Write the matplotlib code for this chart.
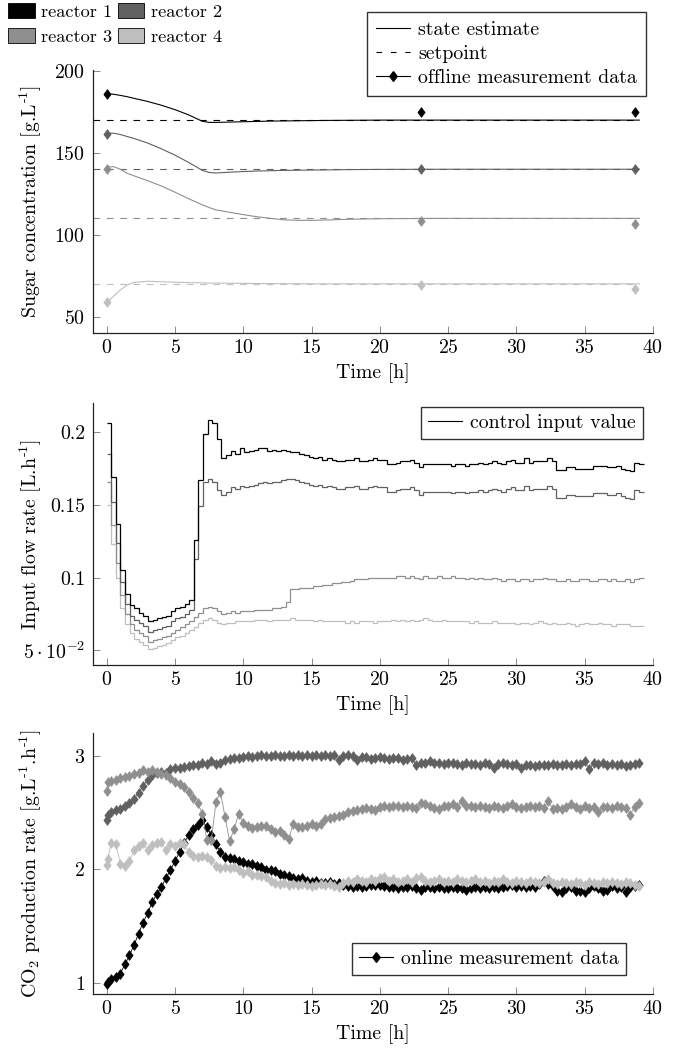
import numpy as np
import matplotlib
matplotlib.use("Agg")
import matplotlib.pyplot as plt
from matplotlib.lines import Line2D
import matplotlib.patches as mpatches

plt.rcParams['font.family'] = 'cmr10'
plt.rcParams['mathtext.fontset'] = 'cm'
plt.rcParams['axes.formatter.use_mathtext'] = True
plt.rcParams['axes.unicode_minus'] = False

# ---------------- data ----------------
reactor_names = ["reactor 1", "reactor 2", "reactor 3", "reactor 4"]
reactor_colors = ["#000000", "#606060", "#8f8f8f", "#bfbfbf"]

# Panel 1: sugar concentration state estimates
t_est = [0, 0.5, 1, 1.5, 2, 3, 4, 5, 6, 7, 7.5, 8, 9, 10, 11, 12, 13, 14, 15, 16, 18, 20, 25, 30, 35, 39]
est_r1 = [186, 185.8, 185.1, 184.3, 183.3, 181.4, 179.1, 176.4, 173.2, 169.3, 168.6, 168.6, 168.8, 169.0, 169.2,
          169.4, 169.5, 169.6, 169.7, 169.8, 169.9, 170, 170, 170, 170, 170]
est_r2 = [162, 162, 161.2, 160.0, 158.8, 156.0, 152.5, 148.6, 144.2, 139.3, 138.0, 137.7, 138.2, 138.6, 138.9,
          139.1, 139.3, 139.4, 139.5, 139.6, 139.8, 139.9, 140, 140, 140, 140]
est_r3 = [141.3, 141.6, 140.0, 137.5, 136.0, 133.0, 129.8, 126.0, 122.0, 118.3, 116.6, 115.2, 113.7, 112.3, 111.0,
          110.0, 109.1, 108.8, 108.8, 109.0, 109.5, 109.8, 110, 110, 110, 110]
est_r4 = [58.7, 62.4, 66.3, 69.3, 70.9, 71.6, 71.3, 71.0, 70.8, 70.6, 70.5, 70.5, 70.4, 70.3, 70.2,
          70.2, 70.1, 70.1, 70, 70, 70, 70, 70, 70, 70, 70]
setpoints = [170, 140, 110, 70]
t_setpoint = [-1, 39]
t_offline = [0, 23, 38.7]
off_r1 = [185.8, 174.8, 174.8]
off_r2 = [161.6, 140.2, 140.2]
off_r3 = [140.2, 108.1, 106.5]
off_r4 = [58.7, 69.1, 67.1]

# Panel 2: control input (one value per ~20 min step)
step_h = 0.336
u_r1 = [0.206, 0.169, 0.137, 0.105, 0.089, 0.081, 0.079, 0.076, 0.074, 0.070,
        0.071, 0.072, 0.073, 0.074, 0.077, 0.079, 0.080, 0.082, 0.085, 0.126,
        0.167, 0.199, 0.208, 0.206, 0.195, 0.182, 0.184, 0.187, 0.185, 0.189,
        0.186, 0.187, 0.188, 0.189, 0.189, 0.187, 0.188, 0.187, 0.188, 0.187,
        0.186, 0.186, 0.185, 0.184, 0.183, 0.182, 0.183, 0.181, 0.182, 0.181,
        0.180, 0.180, 0.181, 0.181, 0.182, 0.180, 0.180, 0.181, 0.182, 0.181,
        0.181, 0.178, 0.178, 0.179, 0.180, 0.180, 0.181, 0.179, 0.176, 0.178,
        0.178, 0.178, 0.178, 0.178, 0.178, 0.177, 0.178, 0.178, 0.177, 0.178,
        0.178, 0.179, 0.178, 0.179, 0.180, 0.179, 0.178, 0.180, 0.181, 0.179,
        0.179, 0.182, 0.179, 0.180, 0.180, 0.180, 0.182, 0.180, 0.174, 0.174,
        0.176, 0.176, 0.175, 0.175, 0.175, 0.175, 0.177, 0.177, 0.177, 0.176,
        0.176, 0.177, 0.175, 0.174, 0.173, 0.179, 0.178]
u_r2 = [0.185, 0.152, 0.124, 0.097, 0.082, 0.074, 0.071, 0.069, 0.067, 0.063,
        0.064, 0.065, 0.066, 0.067, 0.070, 0.072, 0.073, 0.075, 0.078, 0.113,
        0.149, 0.166, 0.168, 0.166, 0.160, 0.157, 0.159, 0.162, 0.161, 0.163,
        0.162, 0.163, 0.164, 0.165, 0.166, 0.165, 0.166, 0.166, 0.167, 0.168,
        0.168, 0.167, 0.166, 0.165, 0.164, 0.163, 0.164, 0.162, 0.163, 0.162,
        0.161, 0.161, 0.162, 0.162, 0.163, 0.161, 0.161, 0.162, 0.163, 0.162,
        0.162, 0.159, 0.159, 0.160, 0.161, 0.161, 0.162, 0.160, 0.157, 0.159,
        0.159, 0.159, 0.159, 0.159, 0.159, 0.158, 0.159, 0.159, 0.158, 0.159,
        0.159, 0.160, 0.159, 0.160, 0.161, 0.160, 0.159, 0.161, 0.162, 0.160,
        0.160, 0.163, 0.160, 0.161, 0.161, 0.161, 0.163, 0.161, 0.155, 0.155,
        0.157, 0.157, 0.156, 0.156, 0.156, 0.156, 0.158, 0.158, 0.158, 0.157,
        0.157, 0.158, 0.156, 0.155, 0.154, 0.160, 0.159]
u_r3 = [0.166, 0.136, 0.110, 0.088, 0.075, 0.068, 0.064, 0.062, 0.060, 0.056,
        0.057, 0.058, 0.059, 0.060, 0.062, 0.064, 0.066, 0.068, 0.070, 0.073,
        0.076, 0.079, 0.080, 0.079, 0.077, 0.075, 0.076, 0.077, 0.076, 0.077,
        0.077, 0.077, 0.078, 0.078, 0.078, 0.078, 0.079, 0.079, 0.080, 0.083,
        0.092, 0.092, 0.093, 0.093, 0.093, 0.094, 0.094, 0.095, 0.095, 0.096,
        0.096, 0.097, 0.097, 0.098, 0.099, 0.099, 0.099, 0.100, 0.100, 0.100,
        0.100, 0.100, 0.100, 0.101, 0.101, 0.100, 0.101, 0.100, 0.099, 0.101,
        0.100, 0.100, 0.101, 0.100, 0.100, 0.101, 0.100, 0.100, 0.099, 0.100,
        0.099, 0.100, 0.099, 0.099, 0.100, 0.099, 0.098, 0.099, 0.099, 0.098,
        0.099, 0.099, 0.098, 0.099, 0.099, 0.100, 0.099, 0.099, 0.098, 0.098,
        0.099, 0.098, 0.098, 0.099, 0.099, 0.098, 0.098, 0.099, 0.099, 0.098,
        0.099, 0.098, 0.098, 0.099, 0.097, 0.099, 0.100]
u_r4 = [0.150, 0.123, 0.100, 0.079, 0.068, 0.062, 0.058, 0.056, 0.054, 0.051,
        0.052, 0.053, 0.054, 0.055, 0.057, 0.059, 0.060, 0.062, 0.064, 0.066,
        0.069, 0.071, 0.072, 0.071, 0.069, 0.068, 0.069, 0.069, 0.070, 0.070,
        0.070, 0.070, 0.071, 0.071, 0.071, 0.070, 0.071, 0.071, 0.071, 0.071,
        0.072, 0.071, 0.071, 0.071, 0.071, 0.070, 0.071, 0.070, 0.070, 0.070,
        0.070, 0.070, 0.069, 0.070, 0.069, 0.070, 0.070, 0.070, 0.069, 0.070,
        0.070, 0.070, 0.071, 0.070, 0.071, 0.070, 0.071, 0.070, 0.071, 0.072,
        0.071, 0.070, 0.070, 0.071, 0.070, 0.070, 0.070, 0.070, 0.070, 0.069,
        0.070, 0.069, 0.069, 0.069, 0.070, 0.069, 0.069, 0.069, 0.069, 0.068,
        0.069, 0.069, 0.068, 0.069, 0.070, 0.069, 0.068, 0.069, 0.068, 0.068,
        0.069, 0.068, 0.067, 0.068, 0.069, 0.068, 0.068, 0.069, 0.068, 0.068,
        0.067, 0.068, 0.068, 0.068, 0.067, 0.067, 0.067]

# Panel 3: online CO2 measurements (first two samples at t=0 and t=0.08, then every 20 min)
t_online = np.r_[0.0, 0.08, np.arange(1, 118) / 3]
co2_r1 = [0.99, 1.01,
          1.03, 1.05, 1.08, 1.16, 1.24, 1.33, 1.43, 1.53, 1.61, 1.71, 1.78, 1.84, 1.92, 1.99, 2.07, 2.15, 2.23, 2.30,
          2.35, 2.39, 2.43, 2.37, 2.30, 2.22, 2.15, 2.11, 2.10, 2.09, 2.07, 2.06, 2.05, 2.05, 2.03, 2.02, 1.99, 1.99,
          1.98, 1.96, 1.95, 1.94, 1.92, 1.91, 1.92, 1.90, 1.89, 1.90, 1.88, 1.88, 1.89, 1.87, 1.88, 1.86, 1.85, 1.84,
          1.85, 1.84, 1.85, 1.86, 1.86, 1.86, 1.85, 1.84, 1.84, 1.83, 1.84, 1.84, 1.85, 1.83, 1.82, 1.84, 1.84, 1.83,
          1.84, 1.83, 1.83, 1.84, 1.83, 1.83, 1.82, 1.83, 1.84, 1.83, 1.84, 1.83, 1.84, 1.83, 1.84, 1.85, 1.86, 1.84,
          1.85, 1.84, 1.85, 1.84, 1.87, 1.90, 1.87, 1.85, 1.81, 1.80, 1.83, 1.84, 1.81, 1.81, 1.80, 1.83, 1.85, 1.83,
          1.81, 1.82, 1.85, 1.83, 1.84, 1.80, 1.84, 1.85, 1.86]
co2_r2 = [2.43, 2.48,
          2.50, 2.52, 2.53, 2.56, 2.58, 2.62, 2.67, 2.73, 2.79, 2.83, 2.85, 2.86, 2.85, 2.88, 2.89, 2.89, 2.90, 2.91,
          2.92, 2.92, 2.94, 2.93, 2.95, 2.93, 2.94, 2.96, 2.97, 2.98, 2.98, 2.99, 3.00, 2.99, 3.00, 3.01, 3.00, 3.00,
          3.01, 3.00, 3.00, 3.01, 3.00, 3.01, 3.00, 3.01, 3.00, 3.01, 3.00, 3.01, 3.00, 3.01, 2.96, 3.00, 3.01, 3.00,
          2.96, 2.99, 2.99, 2.97, 2.98, 2.99, 2.98, 2.97, 2.98, 2.98, 2.96, 2.97, 2.98, 2.92, 2.94, 2.94, 2.95, 2.94,
          2.94, 2.93, 2.94, 2.94, 2.93, 2.92, 2.94, 2.93, 2.93, 2.92, 2.94, 2.93, 2.89, 2.93, 2.94, 2.93, 2.92, 2.93,
          2.89, 2.92, 2.92, 2.91, 2.92, 2.92, 2.92, 2.93, 2.92, 2.92, 2.93, 2.92, 2.93, 2.93, 2.95, 2.88, 2.94, 2.93,
          2.94, 2.92, 2.93, 2.92, 2.93, 2.91, 2.92, 2.93, 2.94]
co2_r3 = [2.69, 2.77,
          2.78, 2.79, 2.80, 2.81, 2.82, 2.84, 2.85, 2.87, 2.86, 2.87, 2.86, 2.84, 2.83, 2.80, 2.77, 2.75, 2.72, 2.68,
          2.63, 2.58, 2.49, 2.26, 2.26, 2.59, 2.68, 2.46, 2.25, 2.35, 2.49, 2.41, 2.38, 2.36, 2.37, 2.38, 2.38, 2.35,
          2.33, 2.34, 2.30, 2.27, 2.40, 2.37, 2.37, 2.38, 2.40, 2.38, 2.40, 2.44, 2.45, 2.46, 2.47, 2.48, 2.50, 2.51,
          2.52, 2.53, 2.54, 2.53, 2.52, 2.55, 2.56, 2.55, 2.56, 2.56, 2.55, 2.56, 2.55, 2.54, 2.58, 2.57, 2.56, 2.54,
          2.53, 2.56, 2.56, 2.57, 2.55, 2.60, 2.56, 2.56, 2.55, 2.56, 2.55, 2.54, 2.56, 2.55, 2.54, 2.56, 2.57, 2.55,
          2.54, 2.55, 2.56, 2.55, 2.56, 2.54, 2.60, 2.53, 2.54, 2.53, 2.55, 2.57, 2.55, 2.53, 2.56, 2.54, 2.55, 2.50,
          2.55, 2.55, 2.54, 2.56, 2.55, 2.54, 2.48, 2.55, 2.58]
co2_r4 = [2.035, 2.09,
          2.23, 2.22, 2.05, 2.03, 2.07, 2.17, 2.20, 2.23, 2.17, 2.21, 2.23, 2.24, 2.17, 2.22, 2.20, 2.23, 2.22, 2.15,
          2.12, 2.11, 2.12, 2.11, 2.08, 2.03, 2.01, 2.02, 2.01, 2.02, 1.99, 1.97, 1.98, 1.95, 1.95, 1.94, 1.93, 1.90,
          1.88, 1.87, 1.88, 1.86, 1.87, 1.86, 1.87, 1.86, 1.85, 1.86, 1.87, 1.86, 1.87, 1.85, 1.84, 1.88, 1.90, 1.89,
          1.91, 1.90, 1.89, 1.91, 1.90, 1.92, 1.93, 1.90, 1.91, 1.89, 1.90, 1.91, 1.89, 1.92, 1.93, 1.90, 1.89, 1.90,
          1.91, 1.89, 1.90, 1.89, 1.91, 1.90, 1.89, 1.90, 1.91, 1.89, 1.90, 1.88, 1.90, 1.89, 1.91, 1.89, 1.88, 1.90,
          1.89, 1.88, 1.90, 1.89, 1.88, 1.89, 1.91, 1.88, 1.87, 1.89, 1.88, 1.87, 1.89, 1.88, 1.86, 1.89, 1.88, 1.87,
          1.89, 1.88, 1.89, 1.88, 1.87, 1.89, 1.88, 1.86, 1.85]

# ---------------- figure ----------------
W, H = 675, 1049
FS = 14.3
FS_TOP = 13.2
fig = plt.figure(figsize=(W / 100, H / 100), dpi=100)

def fx(px):
    return px / W

def fy(py):
    return 1 - py / H

def make_ax(top, bottom):
    return fig.add_axes([fx(93), fy(bottom), fx(653) - fx(93), (bottom - top) / H])

ax1 = make_ax(70, 333)
ax2 = make_ax(403, 665)
ax3 = make_ax(733, 994)

diamond = [(0, 1), (0.75, 0), (0, -1), (-0.75, 0), (0, 1)]
inv = r'$^{\text{-1}}$'

def style(ax):
    for s in ['top', 'right']:
        ax.spines[s].set_visible(False)
    for s in ['left', 'bottom']:
        ax.spines[s].set_linewidth(0.9)
        ax.spines[s].set_color('#222222')
    ax.tick_params(direction='in', length=5, width=0.6, color='#777777', labelsize=FS)
    ax.tick_params(axis='x', pad=4.5)
    ax.tick_params(axis='y', pad=5.5)
    ax.set_xlim(-1, 40)
    ax.set_xticks(range(0, 41, 5))
    ax.set_xlabel('Time [h]', fontsize=FS, labelpad=4)
    ax.yaxis.set_label_coords(-0.088, 0.5)

# Panel 1
ests = [est_r1, est_r2, est_r3, est_r4]
offs = [off_r1, off_r2, off_r3, off_r4]
for est, off, sp, c in zip(ests, offs, setpoints, reactor_colors):
    ax1.plot(t_setpoint, [sp, sp], color=c, lw=0.8, dashes=(6, 6))
    ax1.plot(t_est, est, color=c, lw=0.8)
    ax1.plot(t_offline, off, ls='none', marker=diamond, ms=7, color=c, mec=c, mew=0.5)
style(ax1)
ax1.set_ylim(40, 200.6)
ax1.set_yticks([50, 100, 150, 200])
ax1.set_ylabel('Sugar concentration [g.L' + inv + ']', fontsize=FS)

# Panel 2
us = [u_r1, u_r2, u_r3, u_r4]
for u, c in reversed(list(zip(us, reactor_colors))):
    edges = np.arange(len(u) + 1) * step_h
    ax2.stairs(u, edges, color=c, lw=0.9, baseline=None)
style(ax2)
ax2.set_ylim(0.04, 0.22)
ax2.set_yticks([0.05, 0.1, 0.15, 0.2])
ax2.set_yticklabels(['$5\\cdot10^{-2}$', '0.1', '0.15', '0.2'])
ax2.set_ylabel('Input flow rate [L.h' + inv + ']', fontsize=FS)
ax2.legend(handles=[Line2D([], [], color='black', lw=0.8)], labels=['control input value'],
           loc='upper right', bbox_to_anchor=(fx(643), fy(407)), bbox_transform=fig.transFigure,
           fontsize=FS, frameon=True, fancybox=False, edgecolor='#333333', framealpha=1,
           handlelength=1.75, handletextpad=0.4, borderpad=0.35, borderaxespad=0)

# Panel 3
co2s = [co2_r1, co2_r2, co2_r3, co2_r4]
for y, c in zip(co2s, reactor_colors):
    ax3.plot(t_online, y, color=c, lw=0.6, marker=diamond, ms=7, mec=c, mew=0.5)
style(ax3)
ax3.set_ylim(0.9, 3.2)
ax3.set_yticks([1, 2, 3])
ax3.set_ylabel('CO$_2$ production rate [g.L' + inv + '.h' + inv + ']', fontsize=FS)
ax3.legend(handles=[Line2D([], [], color='black', lw=0.8, marker=diamond, ms=7)],
           labels=['online measurement data'],
           loc='lower right', bbox_to_anchor=(fx(626), fy(975)), bbox_transform=fig.transFigure,
           fontsize=FS, frameon=True, fancybox=False, edgecolor='#333333', framealpha=1,
           handlelength=1.75, handletextpad=0.4, borderpad=0.35, borderaxespad=0)

# Figure legends (row-wise order: reactor 1, reactor 2 / reactor 3, reactor 4)
order = [0, 2, 1, 3]
patches = [mpatches.Patch(facecolor=reactor_colors[i], edgecolor='black', linewidth=0.6) for i in order]
fig.legend(handles=patches, labels=[reactor_names[i] for i in order], ncol=2, loc='upper left',
           bbox_to_anchor=(fx(8), fy(3)), frameon=False, fontsize=FS_TOP,
           handlelength=1.45, handleheight=0.85, handletextpad=0.35, columnspacing=0.3,
           borderpad=0, borderaxespad=0, labelspacing=0.45)

fig.legend(handles=[Line2D([], [], color='black', lw=0.8),
                    Line2D([], [], color='black', lw=0.8, dashes=(5, 8)),
                    Line2D([], [], color='black', lw=0.8, marker=diamond, ms=7)],
           labels=['state estimate', 'setpoint', 'offline measurement data'],
           loc='upper right', bbox_to_anchor=(fx(646), fy(12)), fontsize=FS,
           frameon=True, fancybox=False, edgecolor='#333333', framealpha=1,
           handlelength=1.75, handletextpad=0.4, borderpad=0.45, borderaxespad=0, labelspacing=0.3)

fig.savefig('out.png', dpi=100)
